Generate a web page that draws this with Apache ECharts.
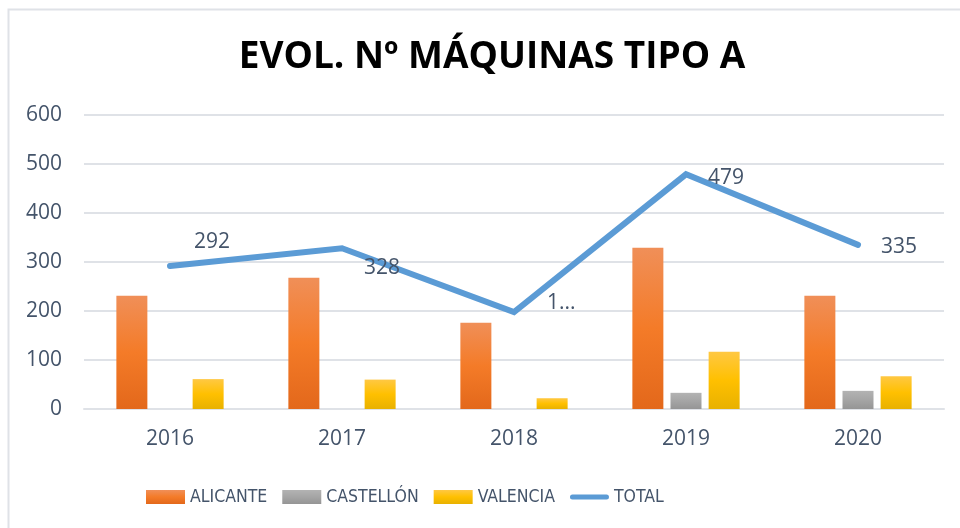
<!DOCTYPE html>
<html>
<head>
<meta charset="utf-8">
<script src="https://cdn.jsdelivr.net/npm/echarts@6/dist/echarts.min.js"></script>
<style>
  html, body { margin: 0; padding: 0; background: #fff; }
  #chart { width: 960px; height: 528px; }
</style>
</head>
<body>
<div id="chart"></div>
<script>
// Number of type A machines per province and year
const years = ['2016', '2017', '2018', '2019', '2020'];
const alicante = [231, 268, 176, 329, 231];
const castellon = [0, 0, 0, 33, 37];
const valencia = [61, 60, 22, 117, 67];
const total = [292, 328, 198, 479, 335];
const yTicks = [0, 100, 200, 300, 400, 500, 600];

const textColor = '#44546A';
const baseFont = 'Open Sans';
const legendFont = '"DejaVu Sans Condensed", "Open Sans", sans-serif';

function vGrad(top, mid, bottom) {
  return new echarts.graphic.LinearGradient(0, 0, 0, 1, [
    { offset: 0, color: top },
    { offset: 0.5, color: mid },
    { offset: 1, color: bottom }
  ]);
}

// Label placement for each point of the TOTAL line
const totalLabelStyles = [
  { position: 'right', offset: [19, -24] },
  { position: 'right', offset: [17, 20] },
  { position: 'right', offset: [28, -9], width: 30, overflow: 'truncate', ellipsis: '...' },
  { position: 'right', offset: [17, 4] },
  { position: 'right', offset: [18, 2] }
];

// Rounded line glyph for the TOTAL legend entry (thin slivers fix the 39x14 box)
const lineIcon = 'path://M2.5,4.5L36.5,4.5A2.5,2.5,0,0,1,36.5,9.5L2.5,9.5A2.5,2.5,0,0,1,2.5,4.5Z' +
  'M0,0L39,0L39,0.01L0,0.01Z M0,13.99L39,13.99L39,14L0,14Z';

const chart = echarts.init(document.getElementById('chart'), null, { renderer: 'canvas' });

const barBase = {
  type: 'bar',
  barWidth: 31,
  barGap: '23%'
};

chart.setOption({
  backgroundColor: '#ffffff',
  animation: false,
  title: {
    text: 'EVOL. Nº MÁQUINAS TIPO A',
    left: 487,
    textAlign: 'center',
    top: 34,
    textStyle: {
      fontFamily: baseFont,
      fontWeight: 'bold',
      fontSize: 37,
      color: '#000000'
    }
  },
  graphic: [{
    type: 'rect',
    silent: true,
    z: -1,
    shape: { x: 8.5, y: 9.5, width: 1000, height: 1000 },
    style: { fill: 'none', stroke: '#dfe2e7', lineWidth: 2 }
  }],
  legend: {
    left: 141,
    top: 483,
    itemWidth: 39,
    itemHeight: 14,
    itemGap: 15,
    textStyle: {
      fontFamily: legendFont,
      fontSize: 17.5,
      color: textColor
    },
    data: [
      { name: 'ALICANTE', icon: 'rect' },
      { name: 'CASTELLÓN', icon: 'rect' },
      { name: 'VALENCIA', icon: 'rect' },
      { name: 'TOTAL', icon: lineIcon, itemStyle: { color: '#5b9bd5', borderWidth: 0 } }
    ]
  },
  grid: {
    left: 84,
    right: 16,
    top: 115,
    bottom: 119,
    containLabel: false
  },
  xAxis: {
    type: 'category',
    data: years,
    axisTick: { show: false },
    axisLine: { show: true, lineStyle: { color: '#dfe2e7', width: 2 } },
    axisLabel: {
      margin: 20,
      fontFamily: baseFont,
      fontSize: 21,
      color: textColor
    }
  },
  yAxis: {
    type: 'value',
    min: yTicks[0],
    max: yTicks[yTicks.length - 1],
    interval: yTicks[1] - yTicks[0],
    axisLine: { show: false },
    axisTick: { show: false },
    axisLabel: {
      margin: 22,
      fontFamily: baseFont,
      fontSize: 21,
      color: textColor
    },
    splitLine: { lineStyle: { color: '#dfe2e7', width: 2 } }
  },
  series: [
    Object.assign({}, barBase, {
      name: 'ALICANTE',
      data: alicante,
      itemStyle: { color: vGrad('#f08f58', '#f47b28', '#e3681b') }
    }),
    Object.assign({}, barBase, {
      name: 'CASTELLÓN',
      data: castellon,
      itemStyle: { color: vGrad('#b3b3b3', '#a5a5a5', '#959595') }
    }),
    Object.assign({}, barBase, {
      name: 'VALENCIA',
      data: valencia,
      itemStyle: { color: vGrad('#ffc843', '#ffc000', '#e8b100') }
    }),
    {
      name: 'TOTAL',
      type: 'line',
      symbol: 'circle',
      symbolSize: 0,
      showSymbol: true,
      z: 5,
      lineStyle: { color: '#5b9bd5', width: 6, cap: 'round', join: 'miter' },
      itemStyle: { color: '#5b9bd5' },
      data: total.map((v, i) => ({
        value: v,
        label: Object.assign({
          show: true,
          fontFamily: baseFont,
          fontSize: 21,
          color: textColor
        }, totalLabelStyles[i])
      }))
    }
  ]
});
</script>
</body>
</html>
